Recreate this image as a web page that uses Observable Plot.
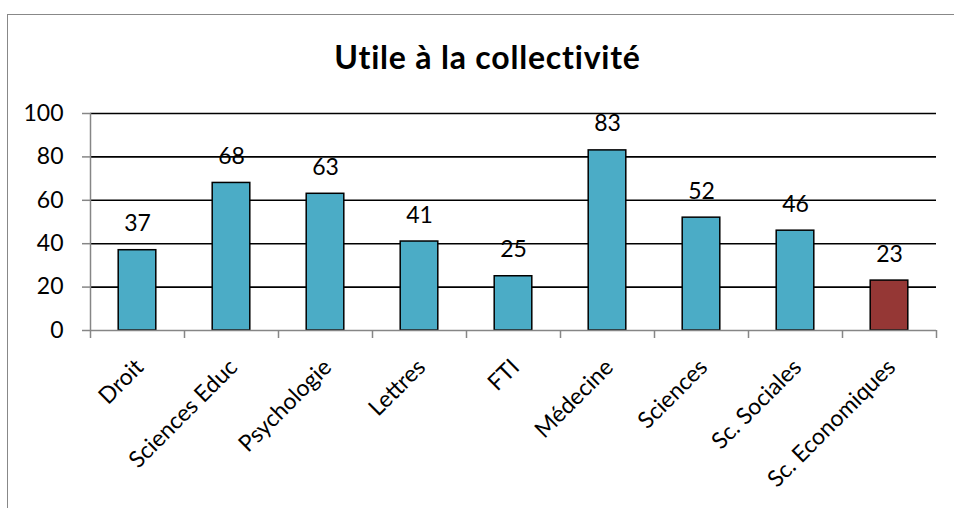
<!DOCTYPE html>
<html>
<head>
<meta charset="utf-8">
<script src="https://cdn.jsdelivr.net/npm/d3@7"></script>
<script src="https://cdn.jsdelivr.net/npm/@observablehq/plot@0.6"></script>
<style>
  html, body { margin: 0; padding: 0; background: #fff; }
  #wrap { position: relative; width: 954px; height: 508px; overflow: hidden; font-family: Lato, "Open Sans", sans-serif; }
  #frame { position: absolute; left: 7px; top: 14px; width: 960px; height: 520px; border-top: 1px solid #888; border-left: 1px solid #888; }
  #title { position: absolute; left: 0; top: 38px; width: 975px; text-align: center; font-size: 32px; letter-spacing: 0.8px; font-weight: bold; color: #000; line-height: 1.2; }
  #chart { position: absolute; left: 0; top: 0; }
</style>
</head>
<body>
<div id="wrap">
  <div id="frame"></div>
  <div id="chart"></div>
  <div id="title">Utile à la collectivité</div>
</div>
<script>
const categories = ["Droit", "Sciences Educ", "Psychologie", "Lettres", "FTI", "Médecine", "Sciences", "Sc. Sociales", "Sc. Economiques"];
const values = [37, 68, 63, 41, 25, 83, 52, 46, 23];
const highlight = "Sc. Economiques";
const yTicks = [0, 20, 40, 60, 80, 100];
const gridTicks = [20, 40, 60, 80, 100];

const data = categories.map((c, i) => ({cat: c, val: values[i], idx: i}));
const teal = "#4BACC6";
const red = "#953735";
const gray = "#868686";

const chart = Plot.plot({
  width: 954,
  height: 508,
  marginLeft: 90,
  marginRight: 18,
  marginTop: 113,
  marginBottom: 178,
  style: {fontFamily: "Lato, 'Open Sans', sans-serif", fontSize: "22px", background: "transparent", color: "#000"},
  x: {domain: [0, categories.length], axis: null},
  y: {domain: [0, 100], axis: null},
  marks: [
    Plot.ruleY(gridTicks, {stroke: "#000", strokeWidth: 1.6}),
    Plot.rectY(data, {
      x1: d => d.idx + 0.3,
      x2: d => d.idx + 0.7,
      y1: 0,
      y2: "val",
      fill: d => d.cat === highlight ? red : teal,
      stroke: "#000",
      strokeWidth: 1.5
    }),
    Plot.ruleY([0], {stroke: gray, strokeWidth: 1.5}),
    Plot.ruleX([0], {y1: 0, y2: 100, stroke: gray, strokeWidth: 1.5}),
    Plot.axisY({ticks: yTicks, tickSize: 8, tickPadding: 19, stroke: gray, strokeWidth: 1.5, color: "#000", fontSize: 23, label: null, tickFormat: d => d}),
    Plot.axisX({ticks: d3.range(0, categories.length + 1), tickSize: 8, tickFormat: () => "", stroke: gray, strokeWidth: 1.5, label: null}),
    Plot.text(data, {
      x: d => d.idx + 0.5,
      y: "val",
      text: d => String(d.val),
      lineAnchor: "bottom",
      dy: -19,
      fontSize: 23,
      fill: "#000"
    }),
    Plot.text(data, {
      x: d => d.idx + 0.5,
      y: 0,
      text: "cat",
      rotate: -45,
      textAnchor: "end",
      lineAnchor: "middle",
      dy: 33,
      dx: 2,
      fontSize: 23,
      fill: "#000"
    })
  ]
});
document.getElementById("chart").appendChild(chart);
</script>
</body>
</html>
